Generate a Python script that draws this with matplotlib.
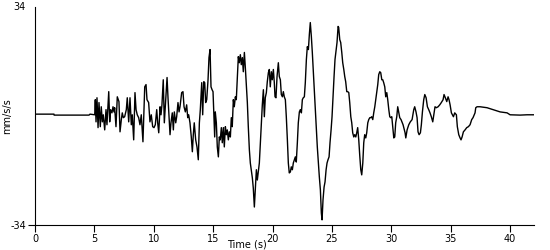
import matplotlib
matplotlib.use('Agg')
import matplotlib.pyplot as plt

# trace, time in s and velocity in mm/s/s
time_s = [0.0, 1.6, 1.61, 4.55, 4.63, 5.03,
          5.08, 5.14, 5.22, 5.31, 5.39, 5.50, 5.58, 5.67, 5.75, 5.87, 5.98, 6.06, 6.21, 6.29,
          6.37, 6.48, 6.57, 6.65, 6.71, 6.82, 6.93, 7.07, 7.16, 7.27, 7.35, 7.44, 7.55, 7.69,
          7.77, 7.89, 8.00, 8.11, 8.19, 8.31, 8.42, 8.51, 8.61, 8.73, 8.84, 8.95, 9.09, 9.24,
          9.35, 9.43, 9.57, 9.68, 9.79,
          9.91, 10.02, 10.13, 10.25, 10.33, 10.42, 10.53, 10.61, 10.69, 10.80, 10.89, 11.01,
          11.12, 11.20, 11.28, 11.37, 11.45, 11.56, 11.65, 11.73, 11.85, 11.93, 12.04, 12.13,
          12.21, 12.35, 12.46, 12.55, 12.66, 12.77, 12.86, 12.94, 13.05, 13.16, 13.25, 13.33,
          13.41, 13.53, 13.64, 13.75, 13.84, 13.92, 14.04, 14.12, 14.21, 14.29, 14.37, 14.46,
          14.57, 14.65, 14.74, 14.82, 14.91,
          14.99, 15.13, 15.18, 15.27, 15.35, 15.44, 15.52, 15.60, 15.69, 15.77, 15.86, 15.94,
          16.03, 16.11, 16.19, 16.28, 16.36, 16.45, 16.53, 16.61, 16.70, 16.78, 16.87, 16.95,
          17.04, 17.12, 17.20, 17.29, 17.37, 17.46, 17.54, 17.63, 17.71, 17.79, 17.88, 17.96,
          18.05, 18.13, 18.21, 18.30, 18.38, 18.47, 18.55, 18.64, 18.72, 18.80, 18.89, 18.97,
          19.06, 19.14, 19.23, 19.31, 19.39, 19.48, 19.56, 19.65, 19.73, 19.81, 19.90, 19.98,
          20.07, 20.15,
          20.21, 20.29, 20.38, 20.49, 20.57, 20.66, 20.74, 20.83, 20.91, 20.99, 21.08, 21.16,
          21.25, 21.33, 21.41, 21.50, 21.58, 21.67, 21.75, 21.84, 21.92, 22.00, 22.09, 22.17,
          22.26, 22.34, 22.43, 22.51, 22.59, 22.68, 22.76, 22.85, 22.93, 23.02, 23.10, 23.18,
          23.27, 23.35, 23.44, 23.52, 23.60, 23.69, 23.77, 23.86, 23.94, 24.03, 24.11, 24.17,
          24.25, 24.34, 24.42, 24.51, 24.59, 24.67, 24.76, 24.84, 24.93, 25.01, 25.09, 25.18,
          25.26, 25.43,
          25.52, 25.57, 25.66, 25.74, 25.83, 25.91, 26.00, 26.08, 26.16, 26.25, 26.33, 26.42,
          26.50, 26.59, 26.67, 26.75, 26.84, 26.92, 27.01, 27.09, 27.17, 27.26, 27.34, 27.43,
          27.51, 27.60, 27.68, 27.76, 27.85, 27.93, 28.02, 28.10, 28.19, 28.27, 28.35, 28.44,
          28.52, 28.61, 28.69, 28.77, 28.86, 28.94, 29.03, 29.11, 29.20, 29.28, 29.36, 29.45,
          29.53, 29.62, 29.70, 29.79, 29.87, 29.95, 30.04, 30.12, 30.21, 30.29, 30.37, 30.46,
          30.54, 30.63,
          30.71, 30.82, 30.99, 31.16, 31.22, 31.33, 31.47, 31.60, 31.75, 31.89, 31.97, 32.08,
          32.17, 32.25, 32.34, 32.45, 32.53, 32.62, 32.73, 32.82, 32.93, 33.04, 33.15, 33.26,
          33.37, 33.49, 33.60, 33.68, 33.79, 33.94, 34.08, 34.21, 34.36, 34.44, 34.55, 34.67,
          34.78, 34.86, 34.95, 35.06, 35.14, 35.23, 35.34, 35.48, 35.56, 35.68, 35.79, 35.87,
          35.96, 36.07, 36.21, 36.35, 36.49, 36.63, 36.77, 36.88, 37.05, 37.11, 37.22, 37.47,
          38.06, 38.57, 39.16, 39.75, 40.00, 40.84, 41.43, 42.0]

velocity = [0.5, 0.5, 0.2, 0.2, 0.5, 0.3,
            5.0, -1.9, 5.6, -3.7, 4.1, -3.4, 2.8, -1.9, 0.3, -4.4, 1.9, -2.8, 7.5, -1.9,
            1.9, 0.9, 2.8, 1.2, 2.5, -3.4, 5.9, 4.4, -5.0, -1.2, 0.9, -0.6, -0.3, 1.9,
            5.6, -1.9, 5.6, -2.8, 0.3, -7.5, 7.2, 1.9, 0.3, -0.6, -2.8, 0.3, -8.1, 9.0,
            9.7, 5.0, 4.1, -1.9, 0.3,
            -3.4, -3.7, -2.8, 1.9, -2.2, -5.3, 2.8, 0.3, 3.4, 11.2, -2.2, 5.0,
            11.9, 5.6, 0.3, -5.9, -2.2, 0.9, -4.4, 1.2, -2.2, -0.3, 4.1, 1.2,
            2.8, 7.2, 7.5, 2.8, 1.2, 3.4, -0.6, 0.3, -2.2, -6.6, -11.2, -5.9,
            -2.2, -7.5, -9.7, -13.7, -2.2, 1.9, 10.3, 0.3, 10.6, 10.3, 4.1, 5.0,
            11.2, 18.1, 20.6, 9.0, 8.1,
            7.5, -6.6, 1.2, -2.2, -9.7, -12.8, -6.6, -7.5, -3.7, -8.4, -3.7, -9.7,
            -3.4, -5.9, -4.4, -7.5, -5.0, -6.6, -0.6, -3.4, 5.0, 2.8, 5.9, 5.0,
            11.9, 18.4, 16.5, 19.0, 15.9, 18.1, 13.7, 19.7, 15.0, 9.7, 4.1, -3.4,
            -10.6, -14.7, -16.8, -19.3, -22.5, -28.4, -23.1, -16.8, -20.0, -17.5, -14.7, -9.0,
            -2.2, 3.4, 8.1, -0.3, 5.6, 7.2, 10.6, 13.4, 14.4, 9.0, 13.7, 11.2,
            14.4, 10.3,
            5.9, 5.6, 12.2, 16.5, 12.2, 11.2, 6.6, 5.9, 7.5, 5.9, 5.0, -0.3,
            -7.5, -14.7, -17.8, -17.5, -15.9, -16.8, -14.7, -13.7, -12.8, -14.4, -8.4, -2.2,
            1.2, 1.9, 0.9, 5.0, 5.6, 5.9, 10.3, 17.5, 21.5, 20.6, 25.3, 29.0,
            24.6, 19.7, 13.4, 8.1, 1.9, -4.4, -9.7, -14.7, -19.0, -23.1, -30.3, -32.4,
            -26.2, -22.2, -20.6, -16.8, -14.7, -13.7, -12.8, -8.4, -4.4, -0.3, 5.9, 12.2,
            17.5, 22.8,
            27.8, 27.5, 23.7, 22.8, 19.7, 16.5, 14.4, 12.2, 10.6, 7.5, 7.5, 7.2,
            4.1, -0.3, -2.2, -5.3, -6.6, -5.9, -6.6, -5.3, -3.7, -7.5, -12.2, -16.8,
            -18.4, -14.7, -8.4, -5.9, -6.9, -5.3, -2.2, -1.2, -0.6, -0.6, -0.3, -1.2,
            0.9, 2.8, 5.0, 7.2, 9.7, 12.8, 13.7, 13.4, 11.2, 11.2, 10.3, 9.0,
            5.9, 7.2, 5.0, 1.9, -0.3, -0.6, -0.3, -3.4, -6.9, -6.6, -2.2, -0.3,
            2.8, 0.9,
            -0.6, -1.2, -2.8, -5.3, -6.9, -4.4, -2.8, -1.9, -1.2, 1.9, 2.8, 1.2,
            -0.6, -5.0, -5.9, -5.3, -2.8, 1.2, 5.0, 6.6, 5.6, 2.8, 1.9, 0.9,
            -0.3, -1.9, 0.9, 2.8, 2.5, 2.8, 3.4, 4.1, 5.0, 6.6, 5.6, 4.4,
            5.9, 5.0, 3.4, 0.9, 0.3, -0.3, 0.9, 0.3, -3.4, -5.9, -6.9, -7.5,
            -6.6, -5.0, -4.4, -3.7, -3.4, -2.8, -1.2, -0.6, 0.9, 2.5, 2.8, 2.8,
            2.5, 1.9, 1.2, 0.9, 0.3, 0.2, 0.3, 0.3]

x_ticks = [0, 5, 10, 15, 20, 25, 30, 35, 40]
y_ticks = [-34, 34]

plt.rcParams['font.family'] = ['DejaVu Sans']
plt.rcParams['axes.unicode_minus'] = False  # plain hyphen like "-34" in the original
fig = plt.figure(figsize=(5.5, 2.5), dpi=100)
ax = fig.add_axes([0.0636, 0.1, 0.907, 0.874])
ax.plot(time_s, velocity, color='black', linewidth=1.0)

ax.set_xlim(0, 42)
ax.set_ylim(-34, 34)
ax.set_xticks(x_ticks)
ax.set_yticks(y_ticks)
ax.tick_params(axis='both', labelsize=7, length=5, width=0.8, pad=1.5)
ax.yaxis.get_major_ticks()[1].tick1line.set_visible(False)  # no tick at the top
for side in ['top', 'right']:
    ax.spines[side].set_visible(False)
for side in ['left', 'bottom']:
    ax.spines[side].set_linewidth(0.8)

ax.set_xlabel('Time (s)', fontsize=7)
ax.xaxis.set_label_coords(0.425, -0.068)
ax.set_ylabel('mm/s/s', fontsize=7)
ax.yaxis.set_label_coords(-0.046, 0.5)

fig.savefig('out.png', dpi=100)
